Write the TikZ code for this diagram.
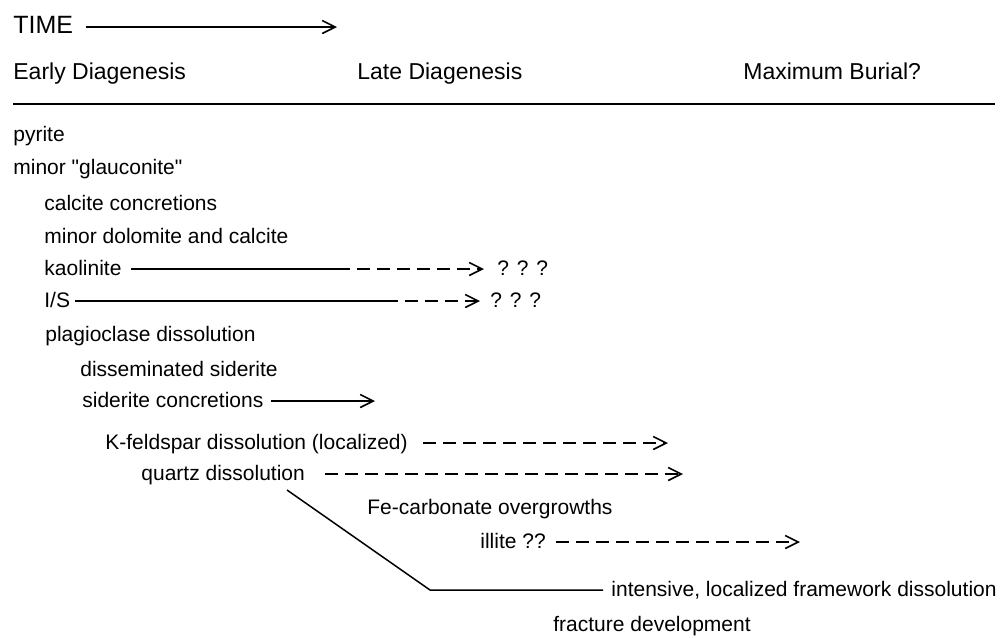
\documentclass[tikz,border=0pt]{standalone}
\usepackage{fontspec}
\setmainfont{Liberation Sans}
\usetikzlibrary{arrows.meta}
\tikzset{every node/.style={inner sep=0pt,anchor=west,text height=8pt,text depth=2pt,font=\fontsize{10.5}{12}\selectfont}}
\tikzset{hd/.style={font=\fontsize{11.5}{13}\selectfont}}
\tikzset{big/.style={font=\fontsize{12.5}{14}\selectfont}}
\tikzset{ln/.style={line width=0.75pt}}
\tikzset{go/.style={ln,-{Straight Barb[length=6.5pt,width=6.5pt,line width=0.8pt]}}}
\tikzset{maybe/.style={go,dash pattern=on 6.5pt off 3.5pt}}

\begin{document}
\begin{tikzpicture}[x=0.5pt,y=-0.5pt]
      \useasboundingbox (0,0) rectangle (1003,638);
      % time axis and stages
      \node[big] (time) at (13,27) {TIME};
      \node[hd] (early) at (13,73) {Early Diagenesis};
      \node[hd] (late) at (357,73) {Late Diagenesis};
      \node[hd] (burial) at (743,73) {Maximum Burial?};
      \coordinate (timeE) at (337,27);
      \coordinate (ruleL) at (13,104);
      \coordinate (ruleR) at (995,104);
      % events
      \node (pyr) at (13,135) {pyrite};
      \node (glauc) at (13,168) {minor \textquotedbl glauconite\textquotedbl};
      \node (calc) at (44,204) {calcite concretions};
      \node (dolo) at (44,237) {minor dolomite and calcite};
      \node (kaol) at (44,269) {kaolinite};
      \node (kaolq) at (497,269) {? ? ?};
      \node (is) at (44,301) {I/S};
      \node (isq) at (490,301) {? ? ?};
      \node (plag) at (45,335) {plagioclase dissolution};
      \node (dsid) at (80,370) {disseminated siderite};
      \node (csid) at (82,401) {siderite concretions};
      \node (kfs) at (105,443) {K-feldspar dissolution (localized)};
      \node (qtz) at (141,474) {quartz dissolution};
      \node (fecarb) at (367,508) {Fe-carbonate overgrowths};
      \node (ill) at (480,542) {illite ??};
      \node[anchor=east] (frame) at (997,590) {intensive, localized framework dissolution};
      \node (frac) at (553,625) {fracture development};
      % ends of the ranges
      \coordinate (kaolS) at (337,269);
      \coordinate (kaolE) at (484,269);
      \coordinate (isS) at (385,301);
      \coordinate (isE) at (480,301);
      \coordinate (csidE) at (375,401);
      \coordinate (kfsE) at (668,443);
      \coordinate (qtzE) at (683,474);
      \coordinate (illE) at (800,542);
      \coordinate (bendA) at (287,490);
      \coordinate (bendB) at (430,590);

      \draw[line width=1pt] (ruleL) -- (ruleR);
      \draw[go,shorten <=6pt] (time) -- (timeE);
      \foreach \a/\b/\g in {kaol/kaolS/4.5pt,is/isS/2.5pt}
        \draw[ln,shorten <=\g] (\a) -- (\b);
      \draw[maybe] (kaolS) -- (kaolE);
      \draw[maybe] (isS) -- (isE);
      \draw[go,shorten <=3.5pt] (csid) -- (csidE);
      \foreach \a/\b/\g in {kfs/kfsE/7.5pt,qtz/qtzE/10pt,ill/illE/5pt}
        \draw[maybe,shorten <=\g] (\a) -- (\b);
      \draw[ln,shorten >=4pt] (bendA) -- (bendB) -- (frame);
    \end{tikzpicture}
\end{document}
